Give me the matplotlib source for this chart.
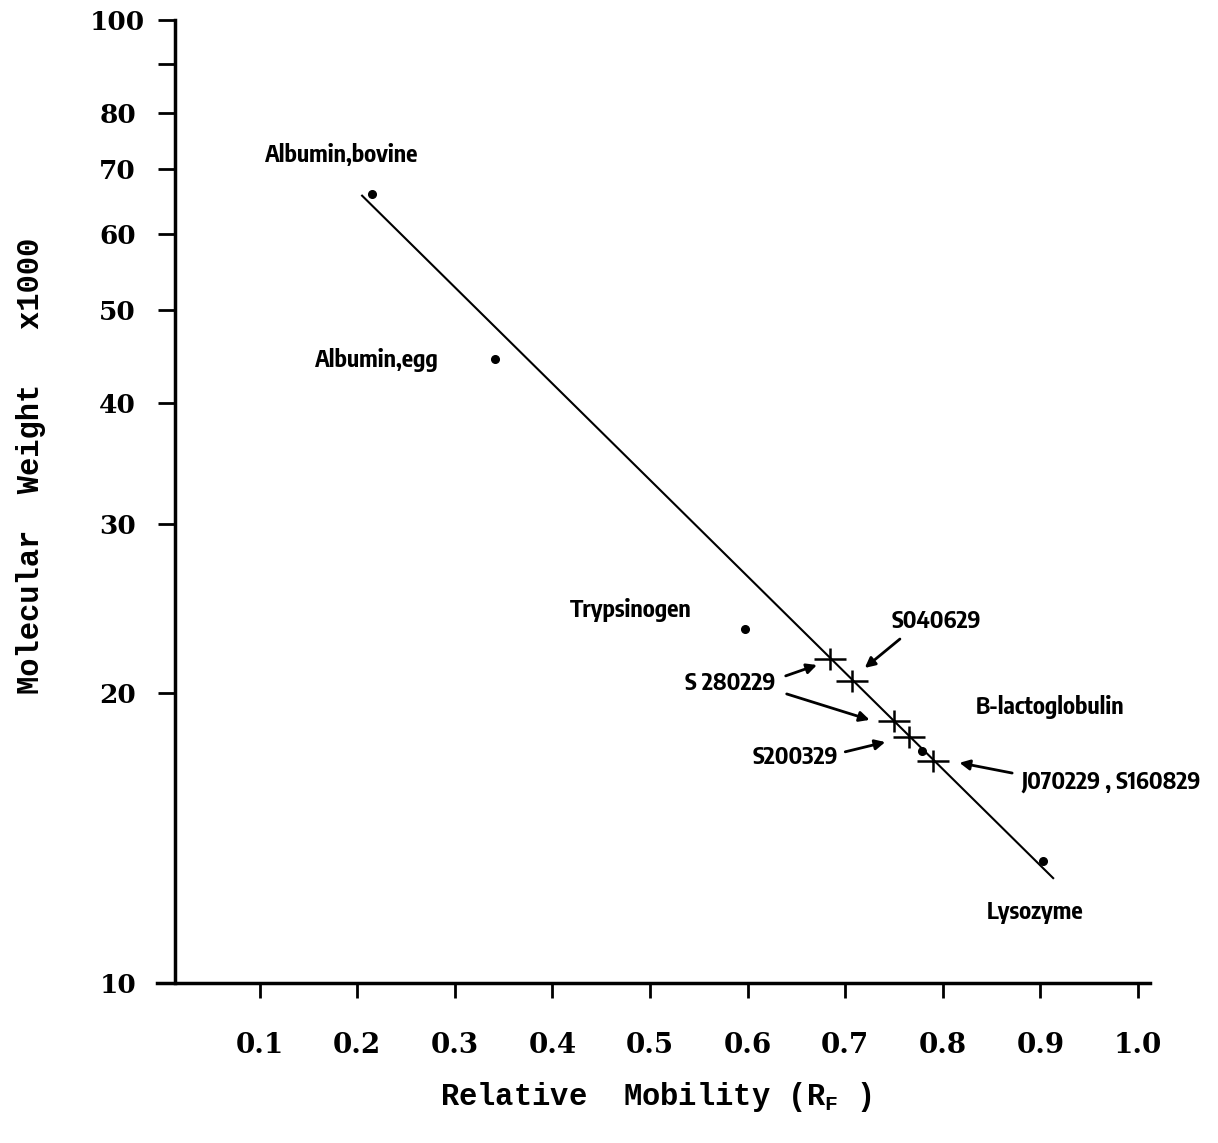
#!/usr/bin/env python3
import matplotlib
matplotlib.use('Agg')
import matplotlib.pyplot as plt
from matplotlib.path import Path
from matplotlib.ticker import FixedLocator, NullLocator

# Standards (R_F, MW x1000)
std_names = ['Albumin,bovine', 'Albumin,egg', 'Trypsinogen', 'B-lactoglobulin', 'Lysozyme']
std_rf = [0.215, 0.341, 0.597, 0.779, 0.903]
std_mw = [66.0, 44.5, 23.3, 17.4, 13.4]

# Fitted standard curve end points
fit_rf = [0.205, 0.913]
fit_mw = [65.7, 12.85]

# Samples (crosses)
sample_names = ['S040629', 'S 280229', 'S200329', 'J070229 , S160829']
sample_rf = [0.684, 0.707, 0.750, 0.765, 0.790]
sample_mw = [21.7, 20.6, 18.7, 18.0, 17.0]

y_ticks = [10, 20, 30, 40, 50, 60, 70, 80, 90, 100]
y_labels = ['10', '20', '30', '40', '50', '60', '70', '80', '', '100']
x_ticks = [0.1, 0.2, 0.3, 0.4, 0.5, 0.6, 0.7, 0.8, 0.9, 1.0]
x_labels = ['0.1', '0.2', '0.3', '0.4', '0.5', '0.6', '0.7', '0.8', '0.9', '1.0']

NARROW = ['Encode Sans Condensed', 'DejaVu Sans']
MONO = 'Liberation Mono'
SERIF = 'DejaVu Serif'

plt.rcParams['mathtext.fontset'] = 'custom'
plt.rcParams['mathtext.rm'] = 'Liberation Mono'
plt.rcParams['mathtext.bf'] = 'Liberation Mono:bold'

# hand-drawn style cross: horizontal arm a bit longer than the vertical one
CROSS = Path([(-1, 0), (1, 0), (0, -0.72), (0, 0.72)],
             [Path.MOVETO, Path.LINETO, Path.MOVETO, Path.LINETO])


def main():
    fig = plt.figure(figsize=(12.18, 11.43), dpi=100)
    ax = fig.add_axes([0.129, 0.14, 0.815, 0.8425])

    ax.set_yscale('log')
    ax.set_ylim(10, 100)
    ax.set_xlim(-0.005, 1.012)

    # Axes styling
    ax.spines['top'].set_visible(False)
    ax.spines['right'].set_visible(False)
    ax.spines['left'].set_position(('data', 0.013))
    ax.spines['left'].set_linewidth(2.5)
    ax.spines['bottom'].set_linewidth(2.5)

    ax.yaxis.set_major_locator(FixedLocator(y_ticks))
    ax.yaxis.set_minor_locator(NullLocator())
    ax.set_yticklabels(y_labels)
    ax.set_xticks(x_ticks)
    ax.set_xticklabels(x_labels)
    ax.tick_params(axis='y', direction='out', length=12, width=2, pad=29)
    ax.tick_params(axis='x', direction='out', length=11, width=2, pad=24)
    for lab in ax.get_yticklabels():
        lab.set_fontfamily(SERIF)
        lab.set_fontweight('bold')
        lab.set_fontsize(19)
        lab.set_horizontalalignment('center')
    for lab in ax.get_xticklabels():
        lab.set_fontfamily(SERIF)
        lab.set_fontweight('bold')
        lab.set_fontsize(20)

    # Standard curve and markers
    ax.plot(fit_rf, fit_mw, color='black', lw=1.5)
    ax.plot(std_rf, std_mw, 'o', color='black', ms=5.5)
    ax.plot(sample_rf, sample_mw, ls='none', marker=CROSS, color='black',
            ms=23, mew=1.8)

    # Standard labels
    txt = dict(fontfamily=NARROW, fontweight='bold', fontsize=17, ha='center', va='center')
    ax.text(0.184, 72.4, std_names[0], **txt)
    ax.text(0.220, 44.4, std_names[1], **txt)
    ax.text(0.4805, 24.4, std_names[2], **txt)
    ax.text(0.910, 19.35, std_names[3], **txt)
    ax.text(0.894, 11.85, std_names[4], **txt)

    # Sample labels with arrows
    arr = dict(arrowstyle='-|>', color='black', lw=2, mutation_scale=15,
               shrinkA=0, shrinkB=0)
    ax.text(0.793, 23.77, sample_names[0], **txt)
    ax.annotate('', xy=(0.720, 21.24), xytext=(0.756, 22.76), arrowprops=arr)

    ax.text(0.582, 20.49, sample_names[1], **txt)
    ax.annotate('', xy=(0.671, 21.39), xytext=(0.639, 20.84), arrowprops=arr)
    ax.annotate('', xy=(0.725, 18.76), xytext=(0.640, 19.96), arrowprops=arr)

    ax.text(0.6486, 17.17, sample_names[2], **txt)
    ax.annotate('', xy=(0.741, 17.79), xytext=(0.700, 17.38), arrowprops=arr)

    ax.text(0.972, 16.17, sample_names[3], **txt)
    ax.annotate('', xy=(0.817, 16.93), xytext=(0.871, 16.52), arrowprops=arr)

    # Axis titles
    fig.text(0.0255, 0.592, 'Molecular  Weight   x1000', rotation=90,
             fontfamily=MONO, fontweight='bold', fontsize=22,
             ha='center', va='center')
    fig.text(0.5386, 0.040, r'Relative  Mobility (R$_{\mathbf{F}}$ )',
             fontfamily=MONO, fontweight='bold', fontsize=22,
             ha='center', va='center')

    fig.savefig('out.png', dpi=100)


if __name__ == '__main__':
    main()
